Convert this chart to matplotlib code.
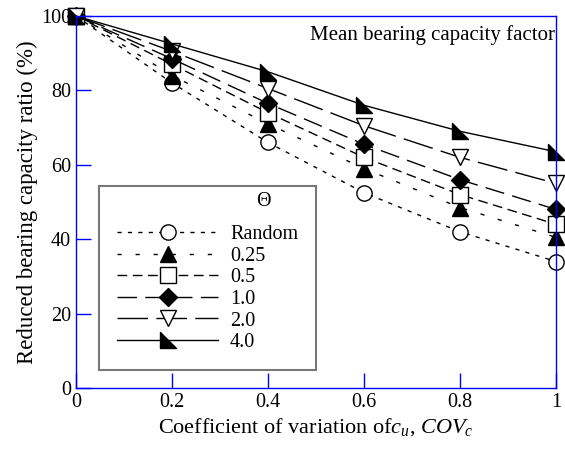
import matplotlib.pyplot as plt
from matplotlib.path import Path

plt.rcParams['font.family'] = 'Liberation Serif'
plt.rcParams['mathtext.fontset'] = 'custom'
plt.rcParams['mathtext.it'] = 'Liberation Serif:italic'
plt.rcParams['mathtext.rm'] = 'Liberation Serif'

cov = [0, 0.2, 0.4, 0.6, 0.8, 1.0]
random_field = [100, 82, 66, 52.5, 42, 34]
theta_025 = [100, 84, 71, 59, 48.5, 40.5]
theta_05 = [100, 87, 74, 62, 52, 44]
theta_10 = [100, 88.5, 76.5, 65.5, 56, 48]
theta_20 = [100, 90.5, 80.5, 70.5, 62, 55]
theta_40 = [100, 92.5, 85, 76, 69, 63.5]
legend_labels = ['Random', '0.25', '0.5', '1.0', '2.0', '4.0']

# right-angled triangle marker, filled
right_tri = Path([(-1, 1), (-1, -1), (1, -1), (-1, 1)],
                 [Path.MOVETO, Path.LINETO, Path.LINETO, Path.CLOSEPOLY])

series = [random_field, theta_025, theta_05, theta_10, theta_20, theta_40]
styles = [
    dict(ls=(0, (3, 4.5)), marker='o', mfc='white', ms=11),
    dict(ls=(0, (3, 10)), marker='^', mfc='black', ms=11),
    dict(ls=(0, (7, 4)), marker='s', mfc='white', ms=11),
    dict(ls=(0, (14, 6)), marker='D', mfc='black', ms=9),
    dict(ls=(0, (22, 6)), marker='v', mfc='white', ms=11),
    dict(ls='-', marker=right_tri, mfc='black', ms=11),
]

fig = plt.figure(figsize=(5.65, 4.51), dpi=100)
ax = fig.add_axes([76 / 565, 1 - 388 / 451, 480 / 565, 372 / 451])

for ys, lab, st in zip(series, legend_labels, styles):
    ax.plot(cov, ys, color='black', lw=1.0, mec='black', mew=1.0,
            clip_on=False, label=lab, **st)

ax.set_xlim(0, 1)
ax.set_ylim(0, 100)
ax.set_xticks([0, 0.2, 0.4, 0.6, 0.8, 1])
ax.set_xticklabels(['0', '0.2', '0.4', '0.6', '0.8', '1'])
ax.set_yticks([0, 20, 40, 60, 80, 100])
for s in ax.spines.values():
    s.set_color('blue')
    s.set_linewidth(1.0)
ax.tick_params(direction='in', length=11, color='blue', labelsize=14.5, width=1.0)

ax.set_xlabel(r'Coefficient of variation of$c_u$, $COV_c$', fontsize=16, labelpad=3)
ax.set_ylabel('Reduced bearing capacity ratio (%)', fontsize=16.5, labelpad=2)
ax.text(0.998, 0.975, 'Mean bearing capacity factor', transform=ax.transAxes,
        ha='right', va='top', fontsize=15)

leg = ax.legend(loc='lower left', bbox_to_anchor=(0.048, 0.048), title=' ',
                fontsize=14.5, title_fontsize=14.5, frameon=True, fancybox=False,
                handlelength=5.0, borderpad=0.9, labelspacing=0.12,
                handletextpad=0.6, borderaxespad=0)
leg.get_frame().set_edgecolor('#555555')
leg.get_frame().set_linewidth(1.5)
ax.text(0.39, 0.50, 'Θ', transform=ax.transAxes, ha='center', va='center',
        fontsize=14.5, zorder=10)

fig.savefig('out.png', dpi=100)
